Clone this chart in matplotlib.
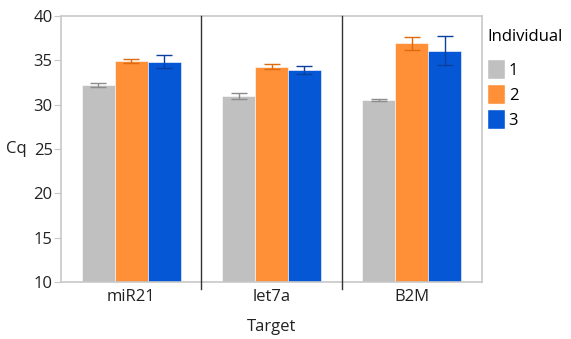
import numpy as np
import matplotlib.pyplot as plt
from matplotlib.patches import Patch

plt.rcParams['font.family'] = ['Open Sans', 'DejaVu Sans']

targets = ['miR21', 'let7a', 'B2M']
individuals = ['1', '2', '3']
cq = {
    '1': [32.2, 30.95, 30.53],
    '2': [34.93, 34.3, 36.92],
    '3': [34.85, 33.9, 36.09],
}
err = {
    '1': [0.26, 0.32, 0.15],
    '2': [0.26, 0.32, 0.75],
    '3': [0.77, 0.49, 1.63],
}
colors = {'1': '#c0c0c0', '2': '#ff9038', '3': '#0657d6'}
err_colors = {'1': '#8c8c8c', '2': '#e0690c', '3': '#0a3f9e'}

fig = plt.figure(figsize=(5.71, 3.39), dpi=100)
ax = fig.add_axes([61 / 571, 57 / 339, 421 / 571, 266 / 339])

x = np.arange(len(targets))
w = 0.235
for i, ind in enumerate(individuals):
    pos = x + (i - 1) * w
    ax.bar(pos, cq[ind], width=w, color=colors[ind], edgecolor='white', linewidth=0.4,
           zorder=2)
    ax.errorbar(pos, cq[ind], yerr=err[ind], fmt='none', ecolor=err_colors[ind],
                elinewidth=1, capsize=6, capthick=1, zorder=3)

ax.set_xlim(-0.5, len(targets) - 0.5)
ax.set_ylim(10, 40)
ax.set_yticks(np.arange(10, 41, 5))
ax.set_xticks(x)
ax.set_xticklabels(targets)

# separators between target groups
for s in x[:-1] + 0.5:
    ax.axvline(s, ymin=-0.025, ymax=1, color='#333333', linewidth=1, clip_on=False, zorder=4)

for sp in ax.spines.values():
    sp.set_color('#c8c8c8')
    sp.set_linewidth(1.2)
ax.tick_params(axis='y', length=5, color='#c8c8c8', labelsize=12, labelcolor='#222222', pad=1)
ax.tick_params(axis='x', length=0, labelsize=12, labelcolor='#222222', pad=5)

ax.set_xlabel('Target', fontsize=12, color='#222222', labelpad=10)
ax.set_ylabel('Cq', fontsize=12, color='#222222', rotation=0, va='center', ha='center')
ax.yaxis.set_label_coords(-0.107, 0.5)

handles = [Patch(facecolor=colors[k], edgecolor='white') for k in individuals]
leg = ax.legend(handles, individuals, title='Individual', loc='upper left',
                bbox_to_anchor=(1.012, 0.95), frameon=False, fontsize=12,
                title_fontsize=12, handlelength=1.1, handleheight=1.45,
                handletextpad=0.2, labelspacing=0.32, borderaxespad=0, borderpad=0)
leg._legend_box.align = 'left'
leg._legend_box.sep = 10

fig.savefig('out.png', dpi=100)
